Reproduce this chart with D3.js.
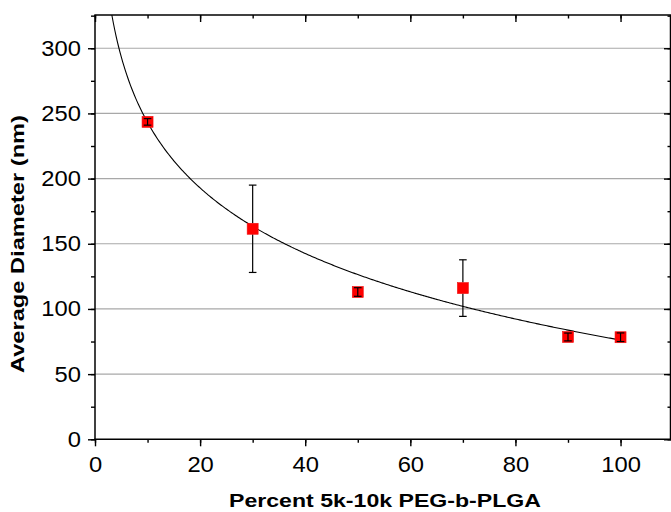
<!DOCTYPE html>
<html>
<head>
<meta charset="utf-8">
<script src="https://cdn.jsdelivr.net/npm/d3@7"></script>
<style>
    body { margin: 0; background: #fff; }
    svg { display: block; font-family: "Liberation Sans", Arial, sans-serif; }
</style>
</head>
<body>
<div id="chart"></div>
<script>
// Data
const percent = [10, 30, 50, 70, 90, 100];
const diameter = [243.5, 161.5, 113, 116, 78.5, 78.3];
const errors = [2.5, 33.5, 3.3, 21.7, 3, 3.3];

// Logarithmic fit: y = fitA - fitB * ln(x)
const fitA = 410;
const fitB = 72.5;

const xTicks = [0, 20, 40, 60, 80, 100];
const yTicks = [0, 50, 100, 150, 200, 250, 300];

const W = 671, H = 512;
const mLeft = 95, mRight = 671, mTop = 15, mBottom = 439.3;

const svg = d3.select("#chart").append("svg")
    .attr("width", W)
    .attr("height", H);

const x = d3.scaleLinear().domain([0, 109.6]).range([mLeft, mRight]);
const y = d3.scaleLinear().domain([0, 325.5]).range([mBottom, mTop]);

// Gridlines
svg.append("g")
    .selectAll("line")
    .data(yTicks.filter(d => d > 0))
    .join("line")
    .attr("x1", mLeft).attr("x2", mRight)
    .attr("y1", d => y(d)).attr("y2", d => y(d))
    .attr("stroke", "#a8a8a8")
    .attr("stroke-width", 1.2);

// Clip for the curve
svg.append("clipPath").attr("id", "plotClip")
    .append("rect")
    .attr("x", mLeft).attr("y", mTop)
    .attr("width", mRight - mLeft).attr("height", mBottom - mTop);

// Fit curve
const curveX = d3.range(1, 100.01, 0.25);
const line = d3.line()
    .x(d => x(d))
    .y(d => y(fitA - fitB * Math.log(d)));

svg.append("path")
    .datum(curveX)
    .attr("clip-path", "url(#plotClip)")
    .attr("fill", "none")
    .attr("stroke", "#000")
    .attr("stroke-width", 1.1)
    .attr("d", line);

// Axes
const minorX = d3.range(0, 110, 10);
const minorY = d3.range(0, 326, 25);

svg.append("g").attr("transform", `translate(0,${mBottom})`)
    .call(d3.axisBottom(x).tickValues(minorX).tickSize(3.5).tickFormat(""));
svg.append("g").attr("transform", `translate(0,${mBottom})`)
    .call(d3.axisBottom(x).tickValues(xTicks).tickSize(7).tickPadding(9.6).tickFormat(d3.format("d")));

svg.append("g").attr("transform", `translate(0,${mTop})`)
    .call(d3.axisBottom(x).tickValues(minorX).tickSize(3.5).tickFormat(""));
svg.append("g").attr("transform", `translate(0,${mTop})`)
    .call(d3.axisBottom(x).tickValues(xTicks).tickSize(7).tickFormat(""));

svg.append("g").attr("transform", `translate(${mLeft},0)`)
    .call(d3.axisLeft(y).tickValues(minorY).tickSize(4).tickFormat(""));
svg.append("g").attr("transform", `translate(${mLeft},0)`)
    .call(d3.axisLeft(y).tickValues(yTicks).tickSize(7).tickPadding(6).tickFormat(d3.format("d")));

svg.append("g").attr("transform", `translate(${mRight},0)`)
    .call(d3.axisLeft(y).tickValues(minorY).tickSize(3.5).tickFormat(""));
svg.append("g").attr("transform", `translate(${mRight},0)`)
    .call(d3.axisLeft(y).tickValues(yTicks).tickSize(7).tickFormat(""));

svg.selectAll(".domain").remove();
svg.selectAll(".tick line").attr("stroke", "#000").attr("stroke-width", 1.4);
svg.selectAll(".tick text")
    .attr("fill", "#000")
    .attr("transform", "scale(1.08,1)")
    .style("font-size", "22px");

// Frame lines
svg.append("line").attr("x1", mLeft).attr("x2", mLeft).attr("y1", mTop).attr("y2", mBottom + 0.7)
    .attr("stroke", "#000").attr("stroke-width", 1.5);
svg.append("line").attr("x1", mLeft - 0.7).attr("x2", mRight).attr("y1", mBottom).attr("y2", mBottom)
    .attr("stroke", "#000").attr("stroke-width", 1.5);
svg.append("line").attr("x1", mLeft - 0.7).attr("x2", mRight).attr("y1", mTop).attr("y2", mTop)
    .attr("stroke", "#000").attr("stroke-width", 1.5);
svg.append("line").attr("x1", mRight - 0.5).attr("x2", mRight - 0.5).attr("y1", mTop).attr("y2", mBottom)
    .attr("stroke", "#000").attr("stroke-width", 1.5);

// Points and error bars
const half = 5.5, cap = 3.8;
const pts = percent.map((p, i) => ({ p, v: diameter[i], e: errors[i] }));

const eb = svg.append("g").attr("stroke", "#000").attr("stroke-width", 1.2);
pts.forEach(d => {
    const cx = x(d.p), cy = y(d.v), t = y(d.v + d.e), b = y(d.v - d.e);
    if (b - t > 2 * half) {
        eb.append("line").attr("x1", cx).attr("x2", cx).attr("y1", t).attr("y2", cy - half);
        eb.append("line").attr("x1", cx).attr("x2", cx).attr("y1", cy + half).attr("y2", b);
    }
});

svg.append("g")
    .selectAll("rect")
    .data(pts)
    .join("rect")
    .attr("x", d => x(d.p) - half)
    .attr("y", d => y(d.v) - half)
    .attr("width", half * 2)
    .attr("height", half * 2)
    .attr("fill", "#ff0000")
    .attr("stroke", "#f01010")
    .attr("stroke-width", 0.6);

const ebTop = svg.append("g").attr("stroke", "#000").attr("stroke-width", 1.2);
pts.forEach(d => {
    const cx = x(d.p), t = y(d.v + d.e), b = y(d.v - d.e);
    if (b - t <= 2 * half) {
        ebTop.append("line").attr("x1", cx).attr("x2", cx).attr("y1", t).attr("y2", b);
    }
    [t, b].forEach(yy => {
        ebTop.append("line").attr("x1", cx - cap).attr("x2", cx + cap).attr("y1", yy).attr("y2", yy);
    });
});

// Axis titles
svg.append("text")
    .attr("x", 385)
    .attr("y", 507)
    .attr("text-anchor", "middle")
    .attr("font-weight", "bold")
    .attr("font-size", 18.6)
    .attr("textLength", 312)
    .attr("lengthAdjust", "spacingAndGlyphs")
    .text("Percent 5k-10k PEG-b-PLGA");

svg.append("text")
    .attr("transform", "translate(24,244) rotate(-90)")
    .attr("text-anchor", "middle")
    .attr("font-weight", "bold")
    .attr("font-size", 18.6)
    .attr("textLength", 258)
    .attr("lengthAdjust", "spacingAndGlyphs")
    .text("Average Diameter (nm)");
</script>
</body>
</html>
